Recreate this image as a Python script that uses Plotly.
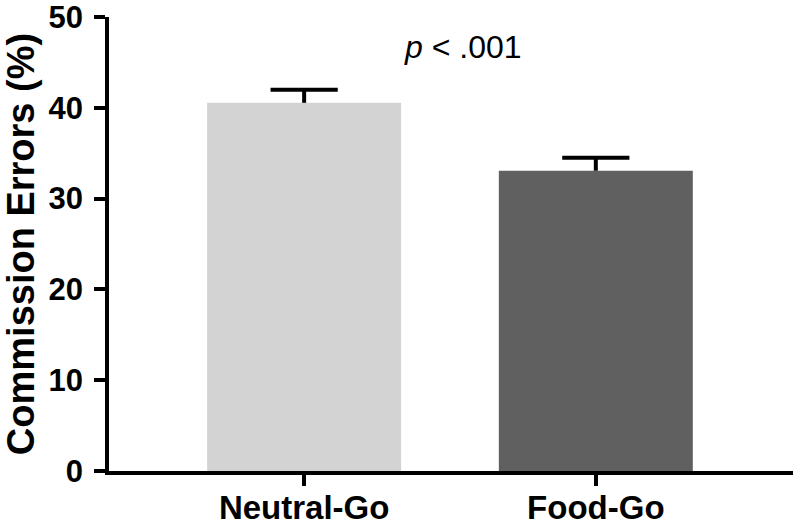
"""
Commission errors bar chart: Neutral-Go vs Food-Go with one-sided SEM bars.
"""
import plotly.graph_objects as go

CONDITIONS = ["Neutral-Go", "Food-Go"]
ERROR_PCT = [40.55, 33.07]
SEM = [1.43, 1.43]
BAR_COLORS = ["#d3d3d3", "#606060"]
Y_TICKS = [0, 10, 20, 30, 40, 50]

FONT = "Liberation Sans, Arial, sans-serif"

fig = go.Figure()
fig.add_trace(go.Bar(
    x=CONDITIONS,
    y=ERROR_PCT,
    width=0.665,
    marker=dict(color=BAR_COLORS, line=dict(width=0)),
    hovertemplate="%{x}: %{y:.1f}%<extra></extra>",
))

# upper-only error bars: stem hanging down from a cap marker at mean + SEM
tops = [m + s for m, s in zip(ERROR_PCT, SEM)]
fig.add_trace(go.Scatter(
    x=CONDITIONS,
    y=tops,
    mode="markers",
    marker=dict(symbol="line-ew", size=48, line=dict(color="black", width=4)),
    error_y=dict(type="data", array=[0, 0], arrayminus=SEM, symmetric=False,
                 color="black", thickness=4, width=0),
    hoverinfo="skip",
))

fig.add_annotation(
    x=0.545, y=46.7, xref="x", yref="y",
    text="<i>p</i> < .001", showarrow=False,
    font=dict(family=FONT, size=32, color="black"),
    yanchor="middle", xanchor="center",
)

fig.update_xaxes(
    range=[-0.669, 1.676],
    showline=True, linecolor="black", linewidth=3.5,
    ticks="outside", ticklen=11, tickwidth=3.5, tickcolor="black",
    tickfont=dict(family=FONT, size=33, color="black", weight="bold"),
    ticklabelstandoff=-6, ticklabeloverflow="allow",
    showgrid=False, zeroline=False, automargin=False,
)
fig.update_yaxes(
    range=[0, 50], tickvals=Y_TICKS,
    showline=True, linecolor="black", linewidth=3.5,
    ticks="outside", ticklen=11, tickwidth=3.5, tickcolor="black",
    tickfont=dict(family=FONT, size=31, color="black", weight="bold"),
    ticklabelstandoff=5, ticklabeloverflow="allow",
    title=dict(text="Commission Errors (%)", standoff=18,
               font=dict(family=FONT, size=38, color="black", weight="bold")),
    showgrid=False, zeroline=False, automargin=False,
)
fig.update_layout(
    width=800, height=527,
    paper_bgcolor="white", plot_bgcolor="white",
    margin=dict(l=109, r=7, t=17, b=56),
    showlegend=False,
)

# drop the default 8px body margin so the figure sits flush in the window
fig.write_html("out.html", config={"displayModeBar": False},
               post_script="document.body.style.margin='0';")
